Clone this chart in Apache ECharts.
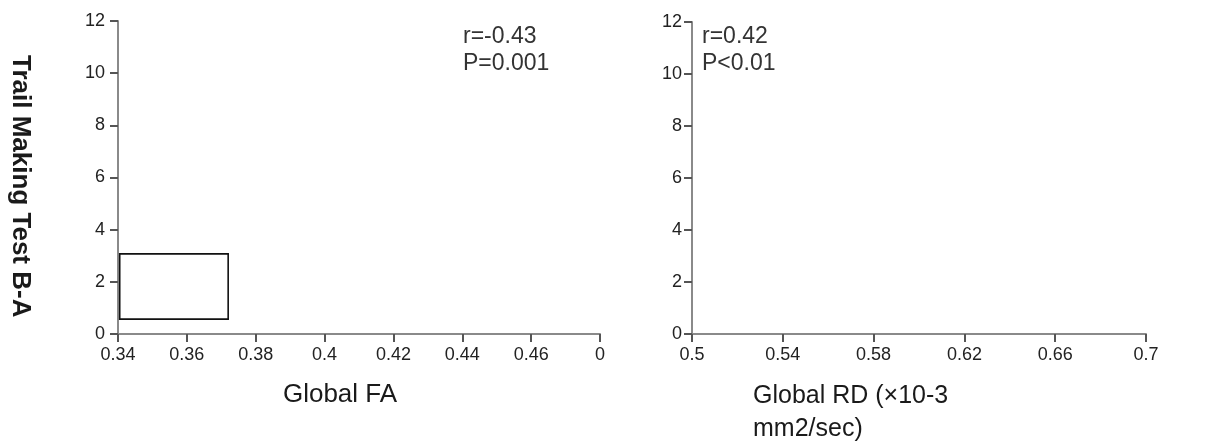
<!DOCTYPE html>
<html>
<head>
<meta charset="utf-8">
<script src="https://cdn.jsdelivr.net/npm/echarts@6/dist/echarts.min.js"></script>
<style>
html,body{margin:0;padding:0;background:#fff}
#main{width:1214px;height:444px}
</style>
</head>
<body>
<div id="main"></div>
<script>
// tick values and labels
var yTicks = [0, 2, 4, 6, 8, 10, 12];
var faTicks = [0.34, 0.36, 0.38, 0.40, 0.42, 0.44, 0.46, 0.48];
var faTickLabels = ['0.34', '0.36', '0.38', '0.4', '0.42', '0.44', '0.46', '0'];
var rdTicks = [0.5, 0.54, 0.58, 0.62, 0.66, 0.7];
var rdTickLabels = ['0.5', '0.54', '0.58', '0.62', '0.66', '0.7'];
// no points are drawn in the picture
var faPoints = [];
var rdPoints = [];
// the box in the left panel: x0, y0, x1, y1
var faBox = [[0.3405, 0.57, 0.372, 3.07]];
var faStats = ['r=-0.43', 'P=0.001'];
var rdStats = ['r=0.42', 'P<0.01'];

var FONT = '"Liberation Sans", Arial, sans-serif';

function xAxisOf(idx, min, max, ticks, labels, margin) {
    return {
        gridIndex: idx,
        type: 'value',
        min: min,
        max: max,
        axisLine: {onZero: false, lineStyle: {color: '#8a8a8a', width: 2}},
        axisTick: {customValues: ticks, length: 8, lineStyle: {color: '#555', width: 2}},
        axisLabel: {
            customValues: ticks,
            margin: margin,
            fontFamily: FONT, fontSize: 18, color: '#222',
            formatter: function (v) {
                for (var i = 0; i < ticks.length; i++) {
                    if (Math.abs(ticks[i] - v) < 1e-9) return labels[i];
                }
                return '';
            }
        },
        splitLine: {show: false}
    };
}

function yAxisOf(idx, margin) {
    return {
        gridIndex: idx,
        type: 'value',
        min: 0,
        max: 12,
        axisLine: {show: true, onZero: false, lineStyle: {color: '#8a8a8a', width: 2}},
        axisTick: {show: true, customValues: yTicks, length: 8, lineStyle: {color: '#555', width: 2}},
        axisLabel: {customValues: yTicks, margin: margin, fontFamily: FONT, fontSize: 18, color: '#222'},
        splitLine: {show: false}
    };
}

var myChart = echarts.init(document.getElementById('main'));
var option = {
    animation: false,
    backgroundColor: '#fff',
    grid: [
        {left: 118, top: 21, width: 482, height: 313},
        {left: 692, top: 22, width: 454, height: 312}
    ],
    xAxis: [
        xAxisOf(0, 0.34, 0.48, faTicks, faTickLabels, 12),
        xAxisOf(1, 0.5, 0.7, rdTicks, rdTickLabels, 12)
    ],
    yAxis: [yAxisOf(0, 13), yAxisOf(1, 10)],
    graphic: [
        {type: 'text', left: 7, top: 55, rotation: -Math.PI / 2, originX: 0, originY: 0,
            style: {text: 'Trail Making Test B-A', font: 'bold 26px ' + FONT, fill: '#1a1a1a'}},
        {type: 'text', x: 340, y: 395, style: {text: 'Global FA', font: '26px ' + FONT, fill: '#1a1a1a', align: 'center', verticalAlign: 'middle'}},
        {type: 'text', x: 753, y: 380, style: {text: 'Global RD (\u00d710-3\nmm2/sec)', font: '25px ' + FONT, lineHeight: 33, fill: '#1a1a1a'}},
        {type: 'text', x: 463, y: 23, style: {text: faStats.join('\n'), font: '23px ' + FONT, lineHeight: 27, fill: '#333'}},
        {type: 'text', x: 702, y: 23, style: {text: rdStats.join('\n'), font: '23px ' + FONT, lineHeight: 27, fill: '#333'}}
    ],
    series: [
        {type: 'scatter', xAxisIndex: 0, yAxisIndex: 0, data: faPoints},
        {type: 'scatter', xAxisIndex: 1, yAxisIndex: 1, data: rdPoints},
        {
            type: 'custom', xAxisIndex: 0, yAxisIndex: 0, silent: true,
            encode: {x: [0, 2], y: [1, 3]},
            data: faBox,
            renderItem: function (params, api) {
                var p0 = api.coord([api.value(0), api.value(3)]);
                var p1 = api.coord([api.value(2), api.value(1)]);
                return {
                    type: 'rect',
                    shape: {x: p0[0], y: p0[1], width: p1[0] - p0[0], height: p1[1] - p0[1]},
                    style: {fill: '#fff', stroke: '#111', lineWidth: 1.6}
                };
            }
        }
    ]
};
myChart.setOption(option);
</script>
</body>
</html>
